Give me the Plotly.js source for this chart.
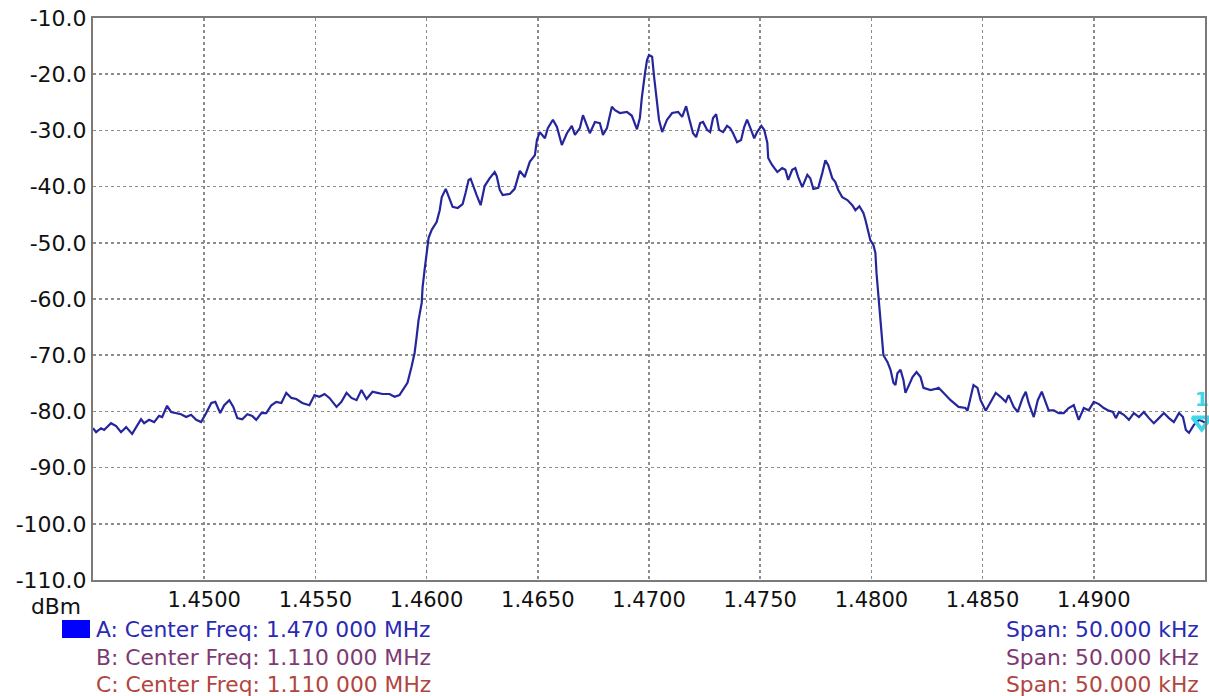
<!DOCTYPE html>
<html>
<head>
<meta charset="utf-8">
<script src="https://cdn.plot.ly/plotly-3.0.1.min.js"></script>
<style>
  html, body { margin: 0; padding: 0; background: #ffffff; }
  #chart { width: 1209px; height: 696px; }
</style>
</head>
<body>
<div id="chart"></div>
<script>
// Frequency in MHz
const freqMHz = [
  1.44500, 1.44514, 1.44536, 1.44550, 1.44581, 1.44604, 1.44626, 1.44649, 1.44676, 1.44694,
  1.44716, 1.44730, 1.44752, 1.44775, 1.44797, 1.44811, 1.44833, 1.44851, 1.44874, 1.44896,
  1.44919, 1.44941, 1.44964, 1.44986, 1.45009, 1.45032, 1.45050, 1.45072, 1.45090, 1.45113,
  1.45131, 1.45149, 1.45171, 1.45194, 1.45216, 1.45234, 1.45257, 1.45279, 1.45302, 1.45324,
  1.45347, 1.45369, 1.45392, 1.45414, 1.45441, 1.45473, 1.45496, 1.45518, 1.45541, 1.45563,
  1.45595, 1.45617, 1.45640, 1.45662, 1.45685, 1.45707, 1.45730, 1.45757, 1.45779, 1.45802,
  1.45833, 1.45856, 1.45878, 1.45901, 1.45914, 1.45932, 1.45946, 1.45955, 1.45964, 1.45978,
  1.45982, 1.45991, 1.46000, 1.46009, 1.46023, 1.46036, 1.46045, 1.46059, 1.46068, 1.46086,
  1.46099, 1.46117, 1.46140, 1.46162, 1.46176, 1.46189, 1.46198, 1.46212, 1.46225, 1.46243,
  1.46261, 1.46284, 1.46306, 1.46315, 1.46329, 1.46342, 1.46374, 1.46396, 1.46419, 1.46441,
  1.46464, 1.46487, 1.46496, 1.46509, 1.46532, 1.46545, 1.46568, 1.46586, 1.46608, 1.46631,
  1.46653, 1.46667, 1.46689, 1.46703, 1.46721, 1.46734, 1.46757, 1.46779, 1.46793, 1.46811,
  1.46833, 1.46847, 1.46869, 1.46901, 1.46923, 1.46946, 1.46959, 1.46968, 1.46982, 1.46991,
  1.47000, 1.47014, 1.47023, 1.47036, 1.47045, 1.47059, 1.47081, 1.47104, 1.47131, 1.47149,
  1.47167, 1.47180, 1.47198, 1.47212, 1.47230, 1.47243, 1.47261, 1.47275, 1.47288, 1.47302,
  1.47315, 1.47333, 1.47351, 1.47365, 1.47378, 1.47396, 1.47414, 1.47428, 1.47441, 1.47459,
  1.47473, 1.47486, 1.47505, 1.47518, 1.47532, 1.47536, 1.47554, 1.47577, 1.47599, 1.47613,
  1.47626, 1.47644, 1.47658, 1.47671, 1.47689, 1.47712, 1.47725, 1.47739, 1.47761, 1.47779,
  1.47793, 1.47806, 1.47824, 1.47838, 1.47851, 1.47869, 1.47892, 1.47914, 1.47928, 1.47946,
  1.47964, 1.47973, 1.47995, 1.48009, 1.48018, 1.48023, 1.48032, 1.48041, 1.48050, 1.48054,
  1.48072, 1.48086, 1.48099, 1.48108, 1.48117, 1.48131, 1.48144, 1.48153, 1.48167, 1.48185,
  1.48203, 1.48221, 1.48234, 1.48266, 1.48288, 1.48302, 1.48324, 1.48356, 1.48392, 1.48423,
  1.48432, 1.48446, 1.48459, 1.48477, 1.48491, 1.48514, 1.48536, 1.48559, 1.48581, 1.48604,
  1.48617, 1.48640, 1.48658, 1.48680, 1.48694, 1.48707, 1.48730, 1.48748, 1.48766, 1.48784,
  1.48797, 1.48820, 1.48842, 1.48865, 1.48887, 1.48910, 1.48932, 1.48955, 1.48977, 1.49000,
  1.49023, 1.49045, 1.49063, 1.49086, 1.49099, 1.49113, 1.49135, 1.49158, 1.49180, 1.49203,
  1.49225, 1.49248, 1.49270, 1.49293, 1.49315, 1.49338, 1.49360, 1.49383, 1.49401, 1.49414,
  1.49428, 1.49450, 1.49473, 1.49496, 1.49500
];

// Level in dBm
const levelDBm = [
  -83.0, -83.7, -83.0, -83.3, -82.1, -82.6, -83.7, -82.8, -84.0, -82.8,
  -81.4, -82.1, -81.5, -81.9, -80.8, -81.0, -79.0, -80.1, -80.3, -80.5,
  -81.0, -80.6, -81.5, -81.9, -80.3, -78.5, -78.3, -80.3, -78.9, -78.0,
  -79.2, -81.2, -81.4, -80.5, -80.8, -81.5, -80.3, -80.3, -78.9, -78.3,
  -78.5, -76.7, -77.6, -77.8, -78.5, -78.9, -77.1, -77.4, -76.9, -77.6,
  -79.2, -78.3, -76.7, -77.6, -78.0, -76.2, -77.8, -76.5, -76.7, -76.9,
  -76.9, -77.4, -77.1, -75.8, -74.9, -72.1, -69.6, -66.8, -63.7, -60.7,
  -57.9, -54.8, -51.8, -49.1, -47.7, -46.8, -46.3, -44.2, -41.9, -40.4,
  -41.7, -43.6, -43.8, -43.1, -41.0, -38.8, -38.6, -40.2, -41.5, -43.3,
  -39.9, -38.5, -37.4, -38.1, -40.6, -41.5, -41.3, -40.4, -37.2, -38.3,
  -35.6, -34.4, -31.7, -30.3, -31.4, -29.6, -28.1, -29.4, -32.6, -30.5,
  -29.2, -30.8, -29.6, -27.3, -29.2, -30.5, -28.5, -28.7, -30.8, -29.6,
  -25.8, -26.4, -26.9, -26.7, -27.4, -29.8, -27.8, -24.1, -19.8, -17.5,
  -16.6, -16.9, -20.5, -24.6, -28.1, -30.3, -28.1, -26.9, -26.7, -27.6,
  -25.7, -27.8, -30.5, -31.2, -28.7, -28.5, -29.9, -30.3, -27.8, -27.1,
  -29.9, -30.3, -29.2, -29.6, -30.5, -32.1, -31.7, -29.4, -28.1, -29.9,
  -31.4, -30.3, -29.2, -29.9, -32.2, -34.9, -36.2, -37.4, -36.7, -37.0,
  -38.8, -37.0, -36.7, -38.3, -40.1, -37.9, -38.5, -40.4, -40.2, -37.6,
  -35.3, -36.2, -38.5, -39.2, -40.6, -41.9, -42.4, -43.3, -44.2, -43.5,
  -44.7, -45.9, -49.5, -50.4, -51.8, -55.4, -59.6, -63.7, -67.3, -70.0,
  -71.2, -72.6, -74.9, -75.3, -73.2, -72.6, -74.4, -76.7, -75.5, -73.9,
  -73.0, -73.9, -75.8, -76.2, -76.0, -75.8, -76.7, -78.0, -79.2, -79.4,
  -79.9, -77.4, -75.3, -75.8, -78.0, -79.9, -78.3, -76.7, -77.4, -78.3,
  -77.1, -79.2, -80.1, -77.6, -76.5, -78.5, -81.0, -78.0, -76.5, -78.5,
  -79.8, -79.8, -80.3, -80.3, -79.4, -78.9, -81.5, -79.4, -79.8, -78.3,
  -78.7, -79.4, -79.8, -80.1, -81.2, -80.1, -80.6, -81.5, -80.3, -81.0,
  -80.1, -81.2, -82.1, -81.2, -80.3, -81.2, -81.9, -80.3, -81.0, -83.3,
  -83.8, -82.4, -81.5, -81.9, -82.1
];

// Axis ticks
const xGridVals = [1.445, 1.450, 1.455, 1.460, 1.465, 1.470, 1.475, 1.480, 1.485, 1.490, 1.495];
const xTickLabels = ["", "1.4500", "1.4550", "1.4600", "1.4650", "1.4700", "1.4750", "1.4800", "1.4850", "1.4900", ""];
const yTickVals = [-110, -100, -90, -80, -70, -60, -50, -40, -30, -20, -10];
const yTickLabels = ["-110.0", "-100.0", "-90.0", "-80.0", "-70.0", "-60.0", "-50.0", "-40.0", "-30.0", "-20.0", "-10.0"];

// Marker 1
const markerFreq = [1.49485];
const markerLevel = [-81.8];

// Info text
const centerLines = ["A: Center Freq: 1.470 000 MHz", "B: Center Freq: 1.110 000 MHz", "C: Center Freq: 1.110 000 MHz"];
const spanLines = ["Span: 50.000 kHz", "Span: 50.000 kHz", "Span: 50.000 kHz"];
const lineColors = ["#2a2ab4", "#7e3a72", "#b2453e"];

const FONT = "DejaVu Sans, Arial, sans-serif";
const FS_TICK_Y = 22;
const FS_TICK_X = 21;
const FS_TEXT = 21.8;

const W = 1209, H = 696;
const L = 93, R = 1205, T = 18, B = 580;
const pw = R - L, ph = B - T;
const px = v => (v - L) / pw;
const py = v => (B - v) / ph;

const traces = [
  {
    x: freqMHz, y: levelDBm, type: "scatter", mode: "lines",
    line: { color: "#26269c", width: 2.2 },
    hoverinfo: "skip", showlegend: false
  },
  {
    x: markerFreq, y: markerLevel, type: "scatter", mode: "markers+text",
    marker: { symbol: "triangle-down-open", size: 16, color: "#3fd8ea", line: { width: 4, color: "#3fd8ea" } },
    text: ["<b>1</b>"], textposition: "top center",
    textfont: { family: FONT, size: 20, color: "#3fd8ea" },
    cliponaxis: false, showlegend: false, hoverinfo: "skip"
  }
];

const annotations = [
  { text: "dBm", xref: "paper", yref: "paper", x: px(56), y: py(606), xanchor: "center", yanchor: "middle",
    showarrow: false, font: { family: FONT, size: FS_TEXT, color: "#111111" } }
];
const rowY = [629, 657, 684];
for (let i = 0; i < 3; i++) {
  annotations.push({ text: centerLines[i], xref: "paper", yref: "paper", x: px(94), y: py(rowY[i]),
    xanchor: "left", yanchor: "middle", showarrow: false, font: { family: FONT, size: FS_TEXT, color: lineColors[i] } });
  annotations.push({ text: spanLines[i], xref: "paper", yref: "paper", x: px(1201), y: py(rowY[i]),
    xanchor: "right", yanchor: "middle", showarrow: false, font: { family: FONT, size: FS_TEXT, color: lineColors[i] } });
}

const layout = {
  width: W, height: H,
  margin: { l: L, r: W - R, t: T, b: H - B, pad: 0 },
  paper_bgcolor: "#ffffff", plot_bgcolor: "#ffffff",
  showlegend: false,
  font: { family: FONT, size: FS_TEXT, color: "#111111" },
  xaxis: {
    range: [1.445, 1.495], tickmode: "array", tickvals: xGridVals, ticktext: xTickLabels,
    showgrid: true, gridcolor: "#8c8c8c", griddash: "dot", gridwidth: 1.5,
    showline: true, linecolor: "#7a7a7a", linewidth: 2, mirror: true,
    ticks: "", zeroline: false, fixedrange: true,
    tickfont: { family: FONT, size: FS_TICK_X, color: "#111111" }
  },
  yaxis: {
    range: [-110, -10], tickmode: "array", tickvals: yTickVals, ticktext: yTickLabels,
    showgrid: true, gridcolor: "#8c8c8c", griddash: "dot", gridwidth: 1.5,
    showline: true, linecolor: "#7a7a7a", linewidth: 2, mirror: true,
    ticks: "", zeroline: false, fixedrange: true,
    tickfont: { family: FONT, size: FS_TICK_Y, color: "#111111" }
  },
  shapes: [
    { type: "rect", xref: "paper", yref: "paper", x0: px(62), x1: px(90), y0: py(638), y1: py(620),
      fillcolor: "#0000ff", line: { width: 0 } }
  ],
  annotations: annotations
};

Plotly.newPlot("chart", traces, layout, { displayModeBar: false, staticPlot: true });
</script>
</body>
</html>
